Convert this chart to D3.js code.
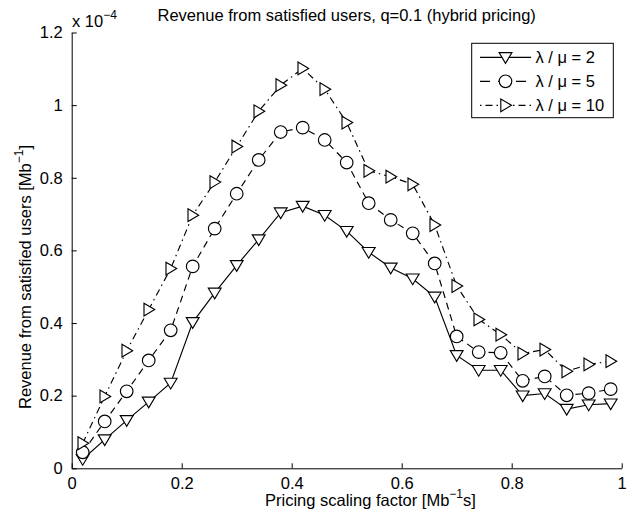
<!DOCTYPE html>
<html>
<head>
<meta charset="utf-8">
<script src="https://cdn.jsdelivr.net/npm/d3@7"></script>
<style>
  html, body { margin: 0; padding: 0; background: #fff; }
  svg { display: block; }
  text { font-family: "Liberation Sans", Arial, Helvetica, sans-serif; fill: #000; }
</style>
</head>
<body>
<svg id="chart" width="633" height="516"></svg>
<script>
// Pricing scaling factor (Mb^-1 s) sampled at 25 points
const pricing = [0.02, 0.06, 0.10, 0.14, 0.18, 0.22, 0.26, 0.30, 0.34, 0.38,
                 0.42, 0.46, 0.50, 0.54, 0.58, 0.62, 0.66, 0.70, 0.74, 0.78,
                 0.82, 0.86, 0.90, 0.94, 0.98];

// Revenue from satisfied users, in units of 1e-4 Mb^-1
const revenueLoad2 = [0.025, 0.079, 0.132, 0.183, 0.235, 0.402, 0.483, 0.559, 0.630, 0.704,
                      0.722, 0.697, 0.653, 0.595, 0.552, 0.522, 0.472, 0.311, 0.270, 0.270,
                      0.200, 0.206, 0.163, 0.175, 0.178];
const revenueLoad5 = [0.044, 0.129, 0.212, 0.297, 0.380, 0.556, 0.660, 0.756, 0.849, 0.926,
                      0.938, 0.904, 0.842, 0.730, 0.684, 0.647, 0.564, 0.363, 0.320, 0.318,
                      0.241, 0.253, 0.201, 0.207, 0.218];
const revenueLoad10 = [0.069, 0.198, 0.324, 0.437, 0.550, 0.697, 0.788, 0.886, 0.983, 1.055,
                       1.101, 1.044, 0.952, 0.819, 0.803, 0.782, 0.670, 0.502, 0.410, 0.368,
                       0.316, 0.327, 0.267, 0.286, 0.295];

const loadRatios = ["2", "5", "10"];
const xTicks = [0, 0.2, 0.4, 0.6, 0.8, 1];
const yTicks = [0, 0.2, 0.4, 0.6, 0.8, 1, 1.2];
const yExponent = "\u22124";

const series = [
  { ratio: loadRatios[0], values: revenueLoad2,  dash: null,        legendDash: null,         legendOffset: 0,  marker: "down" },
  { ratio: loadRatios[1], values: revenueLoad5,  dash: "7,5",       legendDash: "10,8",       legendOffset: 0,  marker: "circle" },
  { ratio: loadRatios[2], values: revenueLoad10, dash: "7,4,1.5,4", legendDash: "7,4,1.5,4",  legendOffset: 11, marker: "right" }
];

const svg = d3.select("#chart");
const plot = { left: 71.7, right: 621.7, top: 32.5, bottom: 468.3 };
const FS = 16.5;
const SUP = 12;

const x = d3.scaleLinear().domain([0, 1]).range([plot.left, plot.right]);
const y = d3.scaleLinear().domain([0, 1.2]).range([plot.bottom, plot.top]);

// Marker shapes
const markerPath = {
  down:  "M-6.4,-4.7L6.4,-4.7L0,6Z",
  right: "M-4.7,-6.4L-4.7,6.4L6,0Z"
};
function drawMarker(g, kind) {
  if (kind === "circle") {
    return g.append("circle").attr("r", 6.3);
  }
  return g.append("path").attr("d", markerPath[kind]);
}

// Axes: left and bottom only, ticks pointing inwards
const xAxis = d3.axisBottom(x).tickValues(xTicks).tickSizeInner(-5).tickSizeOuter(0)
  .tickPadding(9).tickFormat(d3.format("~g"));
const yAxis = d3.axisLeft(y).tickValues(yTicks).tickSizeInner(-5).tickSizeOuter(0)
  .tickPadding(9).tickFormat(d3.format("~g"));

const gx = svg.append("g").attr("transform", `translate(0,${plot.bottom})`).call(xAxis);
const gy = svg.append("g").attr("transform", `translate(${plot.left},0)`).call(yAxis);
[gx, gy].forEach(g => {
  g.select(".domain").attr("stroke", "#000").attr("stroke-width", 1);
  g.selectAll(".tick line").attr("stroke", "#000").attr("stroke-width", 1);
  g.selectAll(".tick text").attr("font-size", FS)
    .attr("font-family", "Liberation Sans, Arial, sans-serif").attr("fill", "#000");
});

// Series lines and markers
const line = d3.line().x((d, i) => x(pricing[i])).y(d => y(d));
series.forEach(s => {
  svg.append("path")
    .datum(s.values)
    .attr("d", line)
    .attr("fill", "none")
    .attr("stroke", "#000")
    .attr("stroke-width", 1.15)
    .attr("stroke-dasharray", s.dash);
  s.values.forEach((v, i) => {
    const g = svg.append("g").attr("transform", `translate(${x(pricing[i])},${y(v)})`);
    drawMarker(g, s.marker).attr("fill", "#fff").attr("stroke", "#000").attr("stroke-width", 1.15);
  });
});

// Title
svg.append("text")
  .attr("x", (plot.left + plot.right) / 2)
  .attr("y", 21)
  .attr("text-anchor", "middle")
  .attr("font-size", FS)
  .text("Revenue from satisfied users, q=0.1 (hybrid pricing)");

// Exponent multiplier above the y axis
const mult = svg.append("text").attr("x", 72).attr("y", 27).attr("font-size", FS);
mult.append("tspan").text("x 10");
mult.append("tspan").attr("dy", -8).attr("font-size", SUP).text(yExponent);

// X axis label
const xl = svg.append("text").attr("x", 265).attr("y", 506).attr("font-size", FS);
xl.append("tspan").text("Pricing scaling factor [Mb");
xl.append("tspan").attr("dy", -8).attr("font-size", SUP).text("\u22121");
xl.append("tspan").attr("dy", 8).text("s]");

// Y axis label
const yl = svg.append("text")
  .attr("transform", "translate(31,409) rotate(-90)")
  .attr("font-size", FS);
yl.append("tspan").text("Revenue from satisfied users [Mb");
yl.append("tspan").attr("dy", -8).attr("font-size", SUP).text("\u22121");
yl.append("tspan").attr("dy", 8).text("]");

// Legend
const legend = svg.append("g");
legend.append("rect")
  .attr("x", 471.7).attr("y", 43.3).attr("width", 141.6).attr("height", 74.4)
  .attr("fill", "#fff").attr("stroke", "#000").attr("stroke-width", 1);
const rowY = [57.3, 81.3, 105.3];
series.forEach((s, i) => {
  const ly = rowY[i];
  legend.append("line")
    .attr("x1", 480).attr("x2", 531).attr("y1", ly).attr("y2", ly)
    .attr("stroke", "#000").attr("stroke-width", 1.15)
    .attr("stroke-dasharray", s.legendDash)
    .attr("stroke-dashoffset", s.legendOffset);
  const g = legend.append("g").attr("transform", `translate(505.5,${ly})`);
  drawMarker(g, s.marker).attr("fill", "#fff").attr("stroke", "#000").attr("stroke-width", 1.15);
  legend.append("text")
    .attr("x", 535.5).attr("y", ly + 6)
    .attr("font-size", FS)
    .text(`\u03bb / \u03bc = ${s.ratio}`);
});
</script>
</body>
</html>
